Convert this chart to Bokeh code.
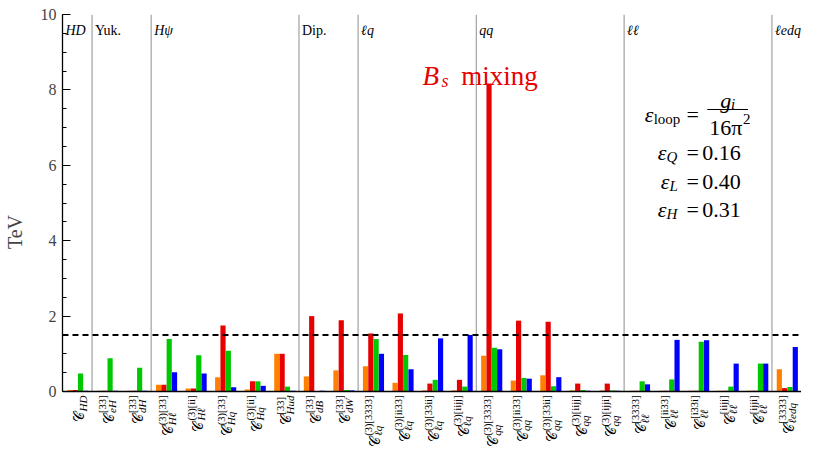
import numpy as np
from bokeh.plotting import figure
from bokeh.models import Range1d, Span, SingleIntervalTicker, ColumnDataSource
from bokeh.core.properties import value
from bokeh.embed import file_html
from bokeh.resources import INLINE

# ---------------- data ----------------
groups = ["HD", "Yuk.", "Hψ", "Dip.", "ℓq", "qq", "ℓℓ", "ℓedq"]
group_sizes = [1, 2, 5, 2, 4, 5, 5, 1]
group_italic = [True, False, True, False, True, True, True, True]

subs = ["HD", "eH", "dH", "Hℓ", "Hℓ", "Hq", "Hq", "Hud", "dB", "dW",
        "ℓq", "ℓq", "ℓq", "ℓq", "qq", "qq", "qq", "qq", "qq",
        "ℓℓ", "ℓℓ", "ℓℓ", "ℓℓ", "ℓℓ", "ℓedq"]
sups = ["", "[33]", "[33]", "(3)[33]", "(3)[ii]", "(3)[33]", "(3)[ii]", "[33]", "[33]", "[33]",
        "(3)[3333]", "(3)[ii33]", "(3)[33ii]", "(3)[iijj]",
        "(3)[3333]", "(3)[ii33]", "(3)[33ii]", "(3)[iijj]", "(3)[ijji]",
        "[3333]", "[ii33]", "[i33i]", "[iijj]", "[ijji]", "[3333]"]

orange = [0.04, 0.02, 0.02, 0.18, 0.08, 0.38, 0.05, 1.00, 0.40, 0.56,
          0.67, 0.23, 0.03, 0.03, 0.95, 0.29, 0.43, 0.03, 0.03,
          0.02, 0.02, 0.02, 0.02, 0.02, 0.59]
red = [0.04, 0.02, 0.02, 0.18, 0.08, 1.75, 0.27, 1.00, 2.00, 1.89,
       1.54, 2.07, 0.21, 0.31, 8.17, 1.88, 1.85, 0.21, 0.21,
       0.02, 0.02, 0.02, 0.02, 0.02, 0.09]
green = [0.48, 0.88, 0.63, 1.39, 0.96, 1.08, 0.27, 0.13, 0.01, 0.04,
         1.39, 0.97, 0.31, 0.13, 1.16, 0.36, 0.14, 0.04, 0.03,
         0.27, 0.32, 1.32, 0.13, 0.74, 0.12]
blue = [0.02, 0.02, 0.02, 0.51, 0.48, 0.11, 0.15, 0.02, 0.02, 0.03,
        1.00, 0.59, 1.41, 1.50, 1.12, 0.34, 0.38, 0.02, 0.02,
        0.19, 1.37, 1.36, 0.74, 0.74, 1.18]
threshold = 1.5

# ---------------- styling ----------------
FONT = "Liberation Serif"
COLORS = ["#ff8000", "#e60000", "#00c800", "#0000ff"]
OFFS = [-0.27, -0.09, 0.09, 0.27]
BAR_W = 0.175
CENTER = 0.52

N = len(subs)
H = 449
TOP = 14
PX_Y = 37.7          # px per TeV in frame
BELOW = H - TOP - 10 * PX_Y   # px below the zero line
p = figure(width=801, height=H,
           x_range=Range1d(0, N), y_range=Range1d(-BELOW / PX_Y, 10),
           x_axis_type=None, output_backend="svg", toolbar_location=None,
           min_border_left=60, min_border_right=0, min_border_top=TOP, min_border_bottom=0)
p.outline_line_color = None
p.ygrid.grid_line_color = None
p.background_fill_color = "white"

ax = p.yaxis[0]
ax.ticker = SingleIntervalTicker(interval=2, num_minor_ticks=4)
ax.bounds = (0, 10)
ax.major_tick_in = 8
ax.major_tick_out = 0
ax.minor_tick_in = 4
ax.minor_tick_out = 0
ax.axis_line_width = 1.3
ax.major_tick_line_width = 1.2
ax.minor_tick_line_width = 1.0
ax.major_label_text_font = FONT
ax.major_label_text_font_size = "16px"
ax.major_label_standoff = 6
ax.axis_label = "TeV"
ax.axis_label_text_font = FONT
ax.axis_label_text_font_size = "20px"
ax.axis_label_text_font_style = "normal"
ax.axis_label_standoff = 12

# group separators
cat = np.arange(N)
bounds = list(np.cumsum(group_sizes)[:-1])
p.segment(x0=bounds, y0=[0] * len(bounds), x1=bounds, y1=[10] * len(bounds),
          line_color="#a8a8a8", line_width=1.3)

# bars
for vals, col, off in zip([orange, red, green, blue], COLORS, OFFS):
    src = ColumnDataSource(dict(x=cat + CENTER + off, top=vals))
    p.vbar(x="x", top="top", bottom=0, width=BAR_W, source=src,
           fill_color=col, line_color=None)

p.add_layout(Span(location=0, dimension="width", line_color="black", line_width=1.5))
p.add_layout(Span(location=threshold, dimension="width", line_color="black",
                  line_width=2, line_dash="6 4"))

# group names
starts = [0] + bounds
for it in (True, False):
    xs = [s + 0.1 for s, g_it in zip(starts, group_italic) if g_it == it]
    ts = [g for g, g_it in zip(groups, group_italic) if g_it == it]
    p.text(x=xs, y=[9.58] * len(xs), text=ts, text_font=value(FONT),
           text_font_size=value("14px"), text_font_style="italic" if it else "normal",
           text_align="left", text_baseline="alphabetic", text_color="black")

# category labels (rotated)
CW = {'(': 0.333, ')': 0.333, '[': 0.333, ']': 0.333, 'i': 0.278, 'j': 0.278,
      'H': 0.722, 'D': 0.722, 'e': 0.444, 'd': 0.5, 'q': 0.5, 'u': 0.5,
      'B': 0.611, 'W': 0.833, 'ℓ': 0.42}
def tw(s, fs):
    return sum(CW.get(c, 0.5) for c in s) * fs

SUP_FS, SUB_FS, BASE_FS = 10.5, 11, 14
D0 = 4
lx, l_sup, l_sub, l_start = [], [], [], []
for i, (sp, sb) in enumerate(zip(sups, subs)):
    lx.append(i + CENTER)
    l_sup.append(sp)
    l_sub.append(sb)
    l_start.append(D0 + max(tw(sp, SUP_FS), tw(sb, SUB_FS)))
zeros = [0] * N
lsrc = ColumnDataSource(dict(x=lx, y=zeros, sup=l_sup, sub=l_sub,
                             yo=l_start, yb=[s + 1 for s in l_start]))
p.text(x="x", y="y", text="sup", source=lsrc, angle=np.pi / 2, x_offset=-4.5, y_offset="yo",
       text_font=value(FONT), text_font_size=value(f"{SUP_FS}px"), text_font_style="normal",
       text_align="left", text_baseline="alphabetic", text_color="black")
p.text(x="x", y="y", text="sub", source=lsrc, angle=np.pi / 2, x_offset=5, y_offset="yo",
       text_font=value(FONT), text_font_size=value(f"{SUB_FS}px"), text_font_style="italic",
       text_align="left", text_baseline="alphabetic", text_color="black")
p.text(x="x", y="y", text=value("𝒞"), source=lsrc, angle=np.pi / 2, x_offset=2, y_offset="yb",
       text_font=value(FONT), text_font_size=value(f"{BASE_FS}px"), text_font_style="normal",
       text_align="right", text_baseline="alphabetic", text_color="black")

# annotations
def xd(px):
    return (px - 68) / 29.8
def yd(py):
    return (391 - py) / 37.7
def T(px, py, s, size, style="normal", color="black", align="left"):
    p.text(x=[xd(px)], y=[yd(py)], text=[s], text_font=value(FONT),
           text_font_size=value(f"{size}px"), text_font_style=style,
           text_color=color, text_align=align, text_baseline="alphabetic")

RED = "#e60000"
T(431, 75, "B", 27, "italic", RED)
T(450, 80, "s", 18, "italic", RED)
T(470, 75, "mixing", 27, "normal", RED)

T(655, 113.5, "ε", 22, "italic")
T(664, 118, "loop", 15)
T(697, 113.5, "=", 22)
T(731, 100, "g", 22, "italic")
T(742, 103, "i", 15, "italic")
p.segment(x0=[xd(718)], y0=[yd(109)], x1=[xd(759)], y1=[yd(109)], line_color="black", line_width=1)
T(720, 127, "16π", 22)
T(754, 118, "2", 15)

for (py, letter, num, ex) in [(152, "Q", "0.16", 668), (181, "L", "0.40", 671), (209, "H", "0.31", 668)]:
    T(ex, py, "ε", 22, "italic")
    T(ex + 9, py + 4, letter, 15, "italic")
    T(697, py, "=", 22)
    T(713, py, num, 22)

open("out.html", "w").write(file_html(p, INLINE))
